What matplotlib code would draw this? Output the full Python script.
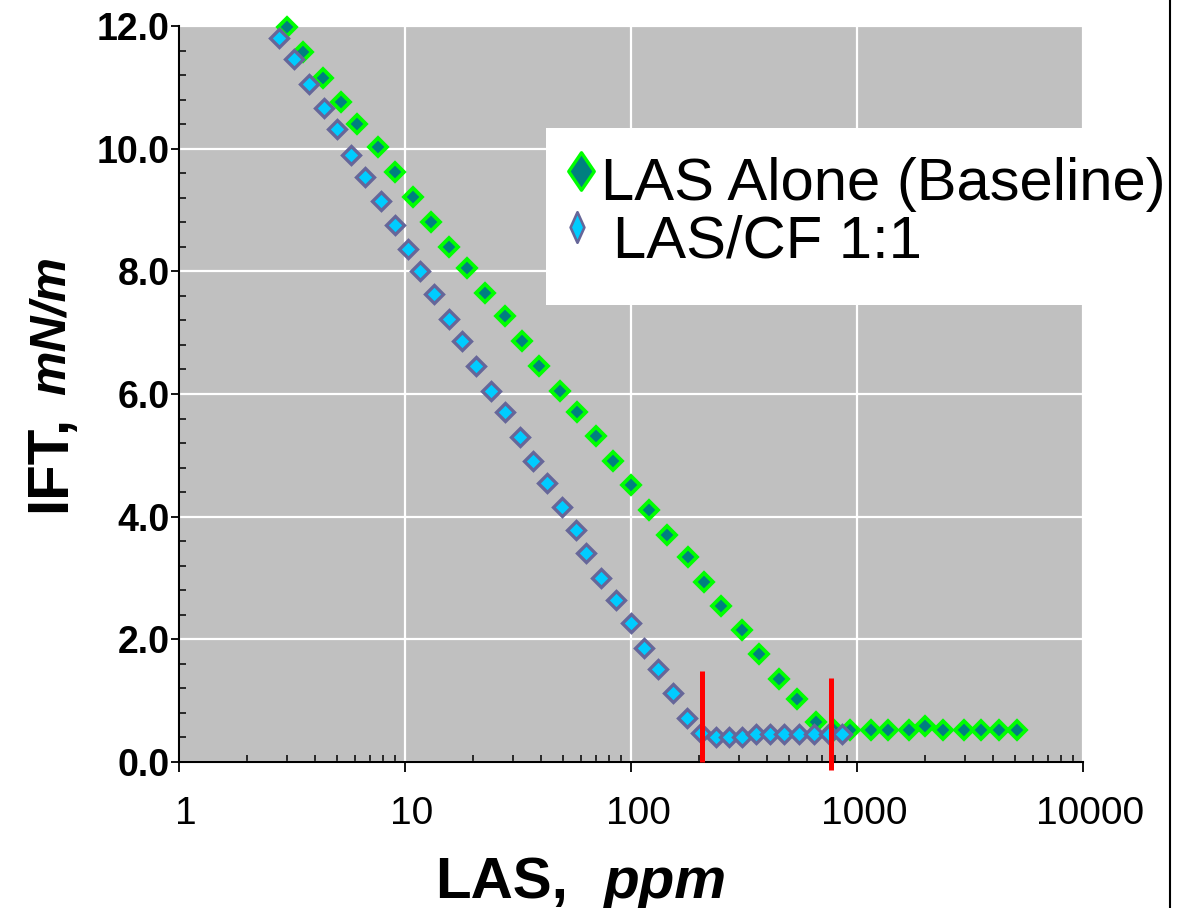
import matplotlib
matplotlib.use("Agg")
import matplotlib.pyplot as plt
import matplotlib.transforms as mtransforms
from matplotlib.ticker import FixedLocator, LogLocator, MultipleLocator, NullFormatter
from matplotlib.path import Path
from matplotlib.lines import Line2D
from matplotlib.patches import Rectangle

# ---------------- data ----------------
baseline_x = [3.0, 3.55, 4.35, 5.19, 6.11, 7.62, 9.03, 10.9, 13.0, 15.7, 18.9, 22.6,
              27.7, 33.0, 39.2, 48.5, 57.5, 69.8, 83.0, 99.7, 120, 145, 178, 211,
              250, 310, 368, 451, 543, 656, 790, 935, 1153, 1365, 1690, 2004, 2390,
              2960, 3520, 4270, 5120]
baseline_y = [11.99, 11.58, 11.16, 10.76, 10.41, 10.02, 9.62, 9.22, 8.81, 8.40, 8.06,
              7.65, 7.27, 6.87, 6.46, 6.05, 5.70, 5.31, 4.91, 4.52, 4.11, 3.70, 3.34,
              2.94, 2.55, 2.16, 1.76, 1.35, 1.02, 0.66, 0.52, 0.52, 0.52, 0.52, 0.52,
              0.58, 0.52, 0.52, 0.52, 0.52, 0.52]

blend_x = [2.78, 3.23, 3.77, 4.38, 5.02, 5.75, 6.67, 7.80, 9.03, 10.35, 11.65, 13.4,
           15.7, 17.9, 20.6, 23.9, 27.7, 32.3, 36.9, 42.7, 49.4, 57.2, 63.5, 73.8,
           85.7, 99.5, 114.5, 132, 153, 177, 204, 237, 272, 310, 359, 414, 477, 553,
           644, 748, 861]
blend_y = [11.80, 11.46, 11.05, 10.66, 10.32, 9.90, 9.53, 9.15, 8.76, 8.36, 8.01,
           7.63, 7.22, 6.86, 6.46, 6.05, 5.70, 5.30, 4.90, 4.55, 4.15, 3.79, 3.41,
           3.00, 2.64, 2.27, 1.86, 1.52, 1.12, 0.71, 0.48, 0.41, 0.41, 0.41, 0.46,
           0.46, 0.46, 0.46, 0.45, 0.45, 0.46]

cmc_x = [207, 765]
cmc_top = [1.48, 1.37]
cmc_bottom = [0.0, -0.13]

x_ticks = [1, 10, 100, 1000, 10000]
x_tick_labels = ["1", "10", "100", "1000", "10000"]
y_ticks = [0, 2, 4, 6, 8, 10, 12]
y_tick_labels = ["0.0", "2.0", "4.0", "6.0", "8.0", "10.0", "12.0"]
series_names = ["LAS Alone (Baseline)", "LAS/CF 1:1"]
x_label_parts = ["LAS,", "ppm"]
y_label_parts = ["IFT,", "mN/m"]

# ---------------- figure ----------------
W, H = 1181, 908
FONT = "Liberation Sans"
plt.rcParams["font.family"] = [FONT, "DejaVu Sans"]


def fx(px):
    return px / W


def fy(py):
    return 1 - py / H


fig = plt.figure(figsize=(W / 100, H / 100), dpi=100)
fig.patch.set_facecolor("white")
ax = fig.add_axes([fx(179), fy(762), (1083 - 179) / W, (762 - 26) / H])
ax.set_facecolor("#c0c0c0")
ax.set_xscale("log")
ax.set_xlim(1, 10000)
ax.set_ylim(0, 12)

for s in ["top", "right"]:
    ax.spines[s].set_visible(False)
for s in ["left", "bottom"]:
    ax.spines[s].set_linewidth(1.5)
    ax.spines[s].set_color("black")
    ax.spines[s].set_zorder(6)

ax.xaxis.set_major_locator(FixedLocator(x_ticks))
ax.set_xticklabels(x_tick_labels)
ax.xaxis.set_minor_locator(LogLocator(base=10, subs=range(2, 10), numticks=20))
ax.xaxis.set_minor_formatter(NullFormatter())
ax.yaxis.set_major_locator(FixedLocator(y_ticks))
ax.set_yticklabels(y_tick_labels)
ax.yaxis.set_minor_locator(MultipleLocator(0.4))

ax.tick_params(axis="x", which="major", direction="out", length=7.2, width=1.3,
               pad=17, labelsize=28)
ax.tick_params(axis="y", which="major", direction="out", length=5.8, width=1.3,
               pad=1, labelsize=27)
ax.tick_params(which="minor", direction="in", length=5, width=1.1)
for lbl in ax.get_yticklabels():
    lbl.set_fontweight("bold")

offset = mtransforms.ScaledTranslation(7 / 100, 0, fig.dpi_scale_trans)
for t in ax.xaxis.get_major_ticks():
    t.label1.set_transform(t.label1.get_transform() + offset)

ax.grid(True, which="major", color="white", linewidth=1.6)
ax.set_axisbelow(True)

# data series (green first, blue on top)
ax.plot(baseline_x, baseline_y, linestyle="none", marker="D", markersize=9.2,
        markerfacecolor="#008080", markeredgecolor="#00ff00", markeredgewidth=2.7,
        zorder=4, clip_on=False)
ax.plot(blend_x, blend_y, linestyle="none", marker="D", markersize=9.0,
        markerfacecolor="#00ccff", markeredgecolor="#666699", markeredgewidth=2.4,
        zorder=5, clip_on=False)

# red vertical markers
ax.vlines(cmc_x, cmc_bottom, cmc_top, colors="#ff0000", linewidth=3.6, zorder=7,
          clip_on=False)

# legend box (white panel drawn over the grid)
ax.add_patch(Rectangle((0.406, 0.621), 0.594, 0.2404, transform=ax.transAxes,
                       facecolor="white", edgecolor="none", zorder=3))


def diamond(ratio):
    return Path([(0, 1), (ratio, 0), (0, -1), (-ratio, 0), (0, 1)],
                [Path.MOVETO, Path.LINETO, Path.LINETO, Path.LINETO, Path.CLOSEPOLY])


fig.add_artist(Line2D([fx(581)], [fy(171)], transform=fig.transFigure,
                      linestyle="none", marker=diamond(0.68), markersize=27,
                      markerfacecolor="#008080", markeredgecolor="#00ff00",
                      markeredgewidth=2.4))
fig.add_artist(Line2D([fx(577)], [fy(227)], transform=fig.transFigure,
                      linestyle="none", marker=diamond(0.45), markersize=22,
                      markerfacecolor="#00ccff", markeredgecolor="#666699",
                      markeredgewidth=1.9))
fig.text(fx(601), fy(200), series_names[0], fontsize=43, ha="left", va="baseline")
fig.text(fx(613), fy(258), series_names[1], fontsize=43, ha="left", va="baseline")

# axis titles
fig.text(fx(435), fy(898), x_label_parts[0], fontsize=42, fontweight="bold",
         ha="left", va="baseline")
fig.text(fx(603), fy(898), x_label_parts[1], fontsize=42, fontweight="bold",
         fontstyle="italic", ha="left", va="baseline")
fig.text(fx(65), fy(512), y_label_parts[0], fontsize=42, fontweight="bold",
         rotation=90, rotation_mode="anchor", ha="left", va="baseline")
fig.text(fx(65), fy(395), y_label_parts[1], fontsize=36, fontweight="bold",
         fontstyle="italic", rotation=90, rotation_mode="anchor", ha="left",
         va="baseline")

# right frame border line
fig.add_artist(Line2D([fx(1170), fx(1170)], [0, 1], transform=fig.transFigure,
                      color="black", linewidth=1.5))

fig.savefig("out.png", dpi=100)
